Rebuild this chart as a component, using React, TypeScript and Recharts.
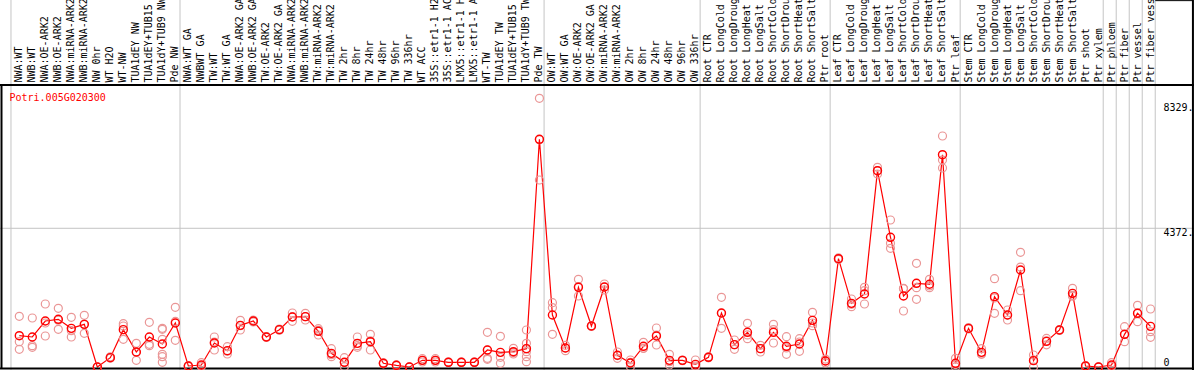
import React from 'react';
import { ComposedChart, Line, Scatter, XAxis, YAxis, ReferenceLine } from 'recharts';

const categories = [
  'NWA:WT', 'NWB:WT', 'NWA:OE-ARK2', 'NWB:OE-ARK2', 'NWA:miRNA-ARK2', 'NWB:miRNA-ARK2', 'NW 0hr', 'WT H2O', 'WT-NW',
  'TUA1dEY NW', 'TUA1dEY+TUB15 NW', 'TUA1dY+TUB9 NW', 'Pde NW',
  'NWA:WT GA', 'NWBWT GA', 'TW:WT', 'TW:WT GA', 'NWA:OE-ARK2 GA', 'NWB:OE-ARK2 GA', 'TW:OE-ARK2', 'TW:OE-ARK2 GA',
  'NWA:miRNA-ARK2 GA', 'NWB:miRNA-ARK2 GA', 'TW:miRNA-ARK2', 'TW:miRNA-ARK2', 'TW 2hr', 'TW 8hr', 'TW 24hr', 'TW 48hr',
  'TW 96hr', 'TW 336hr', 'WT ACC', '35S::etr1-1 H2O', '35S::etr1-1 ACC', 'LMX5::etr1-1 H2O', 'LMX5::etr1-1 ACC', 'WT-TW',
  'TUA1dEY TW', 'TUA1dEY+TUB15 TW', 'TUA1dY+TUB9 TW', 'Pde TW',
  'OW:WT', 'OW:WT GA', 'OW:OE-ARK2', 'OW:OE-ARK2 GA', 'OW:miRNA-ARK2', 'OW:miRNA-ARK2', 'OW 2hr', 'OW 8hr', 'OW 24hr',
  'OW 48hr', 'OW 96hr', 'OW 336hr',
  'Root CTR', 'Root LongCold', 'Root LongDrought', 'Root LongHeat', 'Root LongSalt', 'Root ShortCold', 'Root ShortDrought',
  'Root ShortHeat', 'Root ShortSalt', 'Ptr root',
  'Leaf CTR', 'Leaf LongCold', 'Leaf LongDrought', 'Leaf LongHeat', 'Leaf LongSalt', 'Leaf ShortCold', 'Leaf ShortDrought',
  'Leaf ShortHeat', 'Leaf ShortSalt', 'Ptr leaf',
  'Stem CTR', 'Stem LongCold', 'Stem LongDrought', 'Stem LongHeat', 'Stem LongSalt', 'Stem ShortCold', 'Stem ShortDrought',
  'Stem ShortHeat', 'Stem ShortSalt', 'Ptr shoot', 'Ptr xylem',
  'Ptr phloem', 'Ptr fiber', 'Ptr vessel', 'Ptr fiber vessel',
];

const meanValues = [
  987, 946, 1450, 1503, 1219, 1345, 0, 294, 1177, 473, 946, 725, 1387,
  32, 63, 756, 515, 1313, 1450, 946, 1177, 1576, 1587, 1125, 431, 148, 746, 798, 116, 53, 0, 210, 210, 148, 148, 148,
  536, 462, 483, 578, 7177,
  1639, 599, 2512, 1292, 2522, 369, 126, 652, 977, 210, 210, 84,
  305, 1702, 704, 1093, 578, 1093, 652, 725, 1471, 189,
  3414, 2007, 2301, 6188, 4088, 2238, 2638, 2607, 6692, 116,
  1219, 462, 2217, 1639, 3057, 200, 809, 1166, 2322, 32, 0,
  63, 1030, 1692, 1282,
];

const replicateValues = [
  [1598, 797, 558], [1544, 671, 621], [1986, 977, 1387], [1849, 1187, 1473], [1566, 946, 1145], [1629, 1062, 1345],
  [0, 0, 0], [320, 280, 282], [1366, 872, 1292], [746, 210, 462], [1408, 716, 671], [1219, 1187, 872, 400, 325, 148],
  [1882, 841, 1438],
  [32, 20, 45], [137, 40, 12], [946, 536, 786], [641, 410, 494], [1471, 1166, 1302], [1450, 1420, 1480], [946, 930, 962],
  [1177, 1160, 1194], [1702, 1439, 1587], [1692, 1587, 1482], [1208, 1009, 1158], [578, 326, 389], [294, 10, 140],
  [946, 620, 672], [1030, 536, 828], [116, 100, 132], [53, 40, 66], [0, 0, 0], [262, 210, 158], [262, 210, 158],
  [148, 140, 156], [148, 140, 156], [148, 140, 156], [1093, 273, 242, 536], [966, 116, 304], [588, 410, 451],
  [1166, 746, 483, 326, 167, 578], [8470, 5894, 7167],
  [2027, 1869, 1030], [599, 515, 683], [2764, 2238, 2534], [1292, 1280, 1304], [2616, 2522, 2428], [473, 273, 361],
  [221, 10, 147], [778, 588, 590], [1229, 693, 1009], [400, 63, 167], [210, 200, 220], [221, 0, 31],
  [305, 290, 320], [2196, 1219, 1691], [851, 704, 557], [1376, 893, 1010], [473, 578, 683], [1345, 756, 1178],
  [956, 400, 600], [893, 494, 788], [1723, 1303, 1387], [189, 250, 128],
  [3414, 3390, 3438], [2143, 1901, 1977], [2512, 1986, 2405], [6083, 6188, 6293], [4633, 3899, 3741], [2481, 1765, 2468],
  [3269, 2501, 2134], [2764, 2501, 2556], [7281, 6272, 6523], [273, 0, 75],
  [1219, 1200, 1238], [578, 410, 398], [2784, 1692, 2175], [1797, 1481, 1639], [3615, 3150, 2406], [378, 0, 222],
  [900, 700, 827], [1166, 1150, 1182], [2481, 2230, 2255], [32, 20, 44], [0, 0, 0],
  [137, 30, 22], [1271, 798, 1021], [1945, 1429, 1702], [1828, 1113, 936],
];

const yTicks = [0, 4372, 8329];
const yTickLabels: Record<number, string> = { 0: '0', 4372: '4372.', 8329: '8329.' };
const gridValue = 4372;
const geneName = 'Potri.005G020300';
const groupStarts = [0, 13, 41, 53, 63, 73, 84, 85, 86, 87, 88];

const meanData = meanValues.map((v, i) => ({ x: i, y: v }));
const repData = replicateValues.flatMap((arr, i) => arr.map((v) => ({ x: i, y: v })));
const xTicks = categories.map((_, i) => i);

const FONT = '"DejaVu Sans Mono", monospace';

// layout constants (pixel mapping of the reference)
const X_DOMAIN: [number, number] = [-1.4843, 90.342];
const Y_DOMAIN: [number, number] = [-94.6, 11568];
const HEADER_LINE = 8889;
const BOTTOM_LINE = -47;
const LEFT_LINE = -1.369;
const RIGHT_LINE = 90.26;
const RIGHT_BOX = 87.36;

const HeaderTick = (props: any) => {
  const { x, payload } = props;
  return (
    <text
      transform={`translate(${x + 3},82.5) rotate(-90)`}
      fontFamily={FONT}
      fontSize={10}
      fill="#000"
      textAnchor="start"
    >
      {categories[payload.value]}
    </text>
  );
};

const RightTick = (props: any) => {
  const { y, payload } = props;
  const v = payload.value;
  const ty = v === 0 ? y - 1 : y + 8;
  return (
    <text x={1163.5} y={ty} fontFamily={FONT} fontSize={10} fill="#000" textAnchor="start">
      {yTickLabels[v]}
    </text>
  );
};

const RepShape = (props: any) => {
  const { cx, cy } = props;
  return <circle cx={cx} cy={cy} r={4} fill="none" stroke="#ea9696" strokeWidth={1.2} />;
};

export default function App() {
  return (
    <div style={{ position: 'absolute', left: 0, top: 0, width: 1194, height: 370, background: '#fff' }}>
      <ComposedChart width={1194} height={370} margin={{ top: 0, right: 0, bottom: 0, left: 0 }}>
        <XAxis
          dataKey="x"
          type="number"
          domain={X_DOMAIN}
          allowDataOverflow
          orientation="top"
          mirror
          ticks={xTicks}
          interval={0}
          axisLine={false}
          tickLine={false}
          tick={<HeaderTick />}
        />
        <YAxis
          dataKey="y"
          type="number"
          domain={Y_DOMAIN}
          allowDataOverflow
          orientation="right"
          mirror
          ticks={yTicks}
          interval={0}
          axisLine={false}
          tickLine={false}
          tick={<RightTick />}
        />
        {groupStarts.map((k) => (
          <ReferenceLine key={'g' + k} x={k - 0.64} stroke="#c4c4c4" strokeWidth={1} />
        ))}
        <ReferenceLine y={gridValue} stroke="#c4c4c4" strokeWidth={1} />
        <Scatter data={repData} shape={<RepShape />} isAnimationActive={false} />
        <Line
          data={meanData}
          dataKey="y"
          type="linear"
          stroke="#ff0000"
          strokeWidth={1.2}
          dot={{ r: 4, stroke: '#ff0000', strokeWidth: 1.4, fill: 'none' }}
          activeDot={false}
          isAnimationActive={false}
        />
        <ReferenceLine y={HEADER_LINE} stroke="#000" strokeWidth={2} />
        <ReferenceLine y={BOTTOM_LINE} stroke="#000" strokeWidth={2} />
        <ReferenceLine
          segment={[{ x: LEFT_LINE, y: HEADER_LINE }, { x: LEFT_LINE, y: BOTTOM_LINE }]}
          stroke="#000"
          strokeWidth={2}
        />
        <ReferenceLine x={RIGHT_LINE} stroke="#000" strokeWidth={2} />
        <ReferenceLine
          segment={[{ x: RIGHT_BOX, y: Y_DOMAIN[1] - 20 }, { x: RIGHT_LINE, y: Y_DOMAIN[1] - 20 }]}
          stroke="#000"
          strokeWidth={1}
        />
      </ComposedChart>
      <svg width={200} height={20} style={{ position: 'absolute', left: 0, top: 88 }}>
        <text x={9.5} y={12.5} fontFamily={FONT} fontSize={10} fill="#ff0000">
          {geneName}
        </text>
      </svg>
    </div>
  );
}
